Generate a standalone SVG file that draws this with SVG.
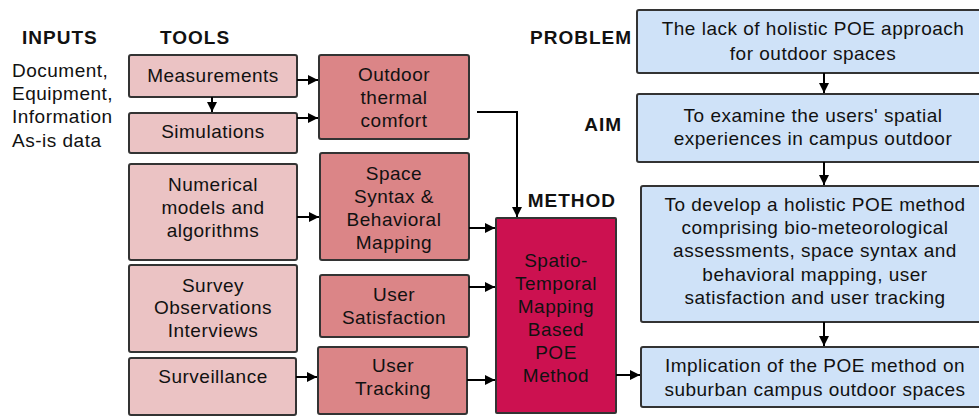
<svg xmlns="http://www.w3.org/2000/svg" width="979" height="419" viewBox="0 0 979 419">
<defs>
<marker id="ah" viewBox="0 0 10 10" refX="10" refY="5" markerWidth="10" markerHeight="10" markerUnits="userSpaceOnUse" orient="auto">
<path d="M0,0 L10,5 L0,10 z" fill="#000"/>
</marker>
<style>
text{font-family:"Liberation Sans",Arial,sans-serif;font-size:19px;letter-spacing:0.5px;fill:#111}
.c{text-anchor:middle}
.h{font-weight:bold;letter-spacing:1px}
.r{text-anchor:end}
.b{stroke:#333;stroke-width:2}
.t1{fill:#EBC3C4}
.t2{fill:#DB8587}
.m{fill:#CC1150}
.bl{fill:#CFE2F8}
.cn{stroke:#000;stroke-width:2;fill:none;marker-end:url(#ah)}
</style>
</defs>
<rect width="979" height="419" fill="#fff"/>
<g id="labels">
<text class="h" x="22" y="44">INPUTS</text>
<text class="h" x="160" y="44">TOOLS</text>
<text class="h r" x="632" y="44">PROBLEM</text>
<text class="h r" x="622" y="131">AIM</text>
<text class="h r" x="616" y="207">METHOD</text>
</g>
<g id="inputs">
<text x="12" y="77">Document,</text>
<text x="12" y="100">Equipment,</text>
<text x="12" y="123">Information</text>
<text x="12" y="147">As-is data</text>
</g>
<g id="measurements"><rect class="b t1" x="129" y="55" width="168" height="42" rx="2"/><text class="c" x="213" y="82">Measurements</text></g>
<g id="simulations"><rect class="b t1" x="129" y="113" width="168" height="40" rx="2"/><text class="c" x="213" y="138">Simulations</text></g>
<g id="numerical"><rect class="b t1" x="129" y="164" width="168" height="96" rx="2"/><text class="c" x="213" y="191">Numerical</text><text class="c" x="213" y="214">models and</text><text class="c" x="213" y="237">algorithms</text></g>
<g id="survey"><rect class="b t1" x="129" y="265" width="168" height="87" rx="2"/><text class="c" x="213" y="292">Survey</text><text class="c" x="213" y="314">Observations</text><text class="c" x="213" y="337">Interviews</text></g>
<g id="surveillance"><rect class="b t1" x="129" y="358" width="167" height="57" rx="2"/><text class="c" x="213" y="383">Surveillance</text></g>
<g id="thermal"><rect class="b t2" x="319" y="55" width="150" height="84" rx="2"/><text class="c" x="394" y="81">Outdoor</text><text class="c" x="394" y="104">thermal</text><text class="c" x="394" y="127">comfort</text></g>
<g id="syntax"><rect class="b t2" x="320" y="153" width="149" height="107" rx="2"/><text class="c" x="394" y="180">Space</text><text class="c" x="394" y="203">Syntax &amp;</text><text class="c" x="394" y="226">Behavioral</text><text class="c" x="394" y="249">Mapping</text></g>
<g id="satisfaction"><rect class="b t2" x="320" y="275" width="149" height="62" rx="2"/><text class="c" x="394" y="301">User</text><text class="c" x="394" y="324">Satisfaction</text></g>
<g id="tracking"><rect class="b t2" x="318" y="347" width="149" height="67" rx="2"/><text class="c" x="393" y="372">User</text><text class="c" x="393" y="395">Tracking</text></g>
<g id="method"><rect class="b m" x="496" y="218" width="120" height="195" rx="1"/>
<text class="c" x="556" y="267">Spatio-</text><text class="c" x="556" y="290">Temporal</text><text class="c" x="556" y="313">Mapping</text><text class="c" x="556" y="336">Based</text><text class="c" x="556" y="359">POE</text><text class="c" x="556" y="382">Method</text></g>
<g id="problem"><rect class="b bl" x="637" y="10" width="360" height="63" rx="2"/><text class="c" x="813" y="35">The lack of holistic POE approach</text><text class="c" x="813" y="60">for outdoor spaces</text></g>
<g id="aim"><rect class="b bl" x="637" y="94" width="360" height="68" rx="2"/><text class="c" x="813" y="122">To examine the users' spatial</text><text class="c" x="813" y="145">experiences in campus outdoor</text></g>
<g id="develop"><rect class="b bl" x="641" y="186" width="360" height="136" rx="2"/><text class="c" x="815" y="211">To develop a holistic POE method</text><text class="c" x="815" y="234">comprising bio-meteorological</text><text class="c" x="815" y="257">assessments, space syntax and</text><text class="c" x="815" y="281">behavioral mapping, user</text><text class="c" x="815" y="304">satisfaction and user tracking</text></g>
<g id="implication"><rect class="b bl" x="641" y="347" width="360" height="60" rx="2"/><text class="c" x="815" y="372">Implication of the POE method on</text><text class="c" x="815" y="396">suburban campus outdoor spaces</text></g>
<g id="connectors">
<path class="cn" d="M212,97 V112"/>
<path class="cn" d="M297,80 H318"/>
<path class="cn" d="M297,118 H318"/>
<path class="cn" d="M297,217 H319"/>
<path class="cn" d="M296,377 H317"/>
<path class="cn" d="M477,112 H517 V217"/>
<path class="cn" d="M469,228 H495"/>
<path class="cn" d="M469,287 H495"/>
<path class="cn" d="M467,380 H495"/>
<path class="cn" d="M616,375 H640"/>
<path class="cn" d="M824,73 V93"/>
<path class="cn" d="M824,162 V185"/>
<path class="cn" d="M824,322 V346"/>
</g>
</svg>
